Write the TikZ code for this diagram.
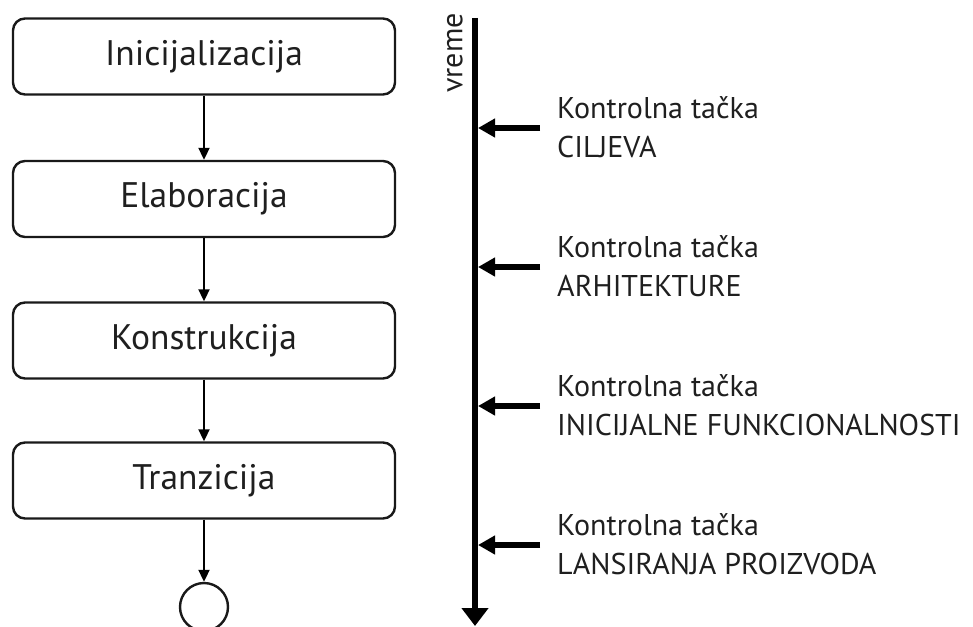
\documentclass[tikz,border=0pt]{standalone}
\usepackage{fontspec}
\setmainfont{PT Sans}
\usetikzlibrary{arrows.meta}
\begin{document}
\begin{tikzpicture}[x=1pt,y=-1pt,
  phase/.style={draw=black!90,line width=2.4pt,rounded corners=12pt,minimum width=382pt,minimum height=76pt,inner sep=0pt,font=\fontsize{35.5}{40}\selectfont,text=black!88},
  flow/.style={line width=2pt,-{Triangle[width=11pt,length=12pt]}},
  cp/.style={line width=6pt,-{Triangle[width=18pt,length=17pt]}},
  cplabel/.style={anchor=base west,align=left,inner sep=0pt,font=\fontsize{30}{38.5}\selectfont,text=black!88}]
\useasboundingbox (0,0) rectangle (973,626);
\node[phase] (p1) at (204,56.5) {Inicijalizacija};
\node[phase] (p2) at (204,199) {Elaboracija};
\node[phase] (p3) at (204,340.5) {Konstrukcija};
\node[phase] (p4) at (204,480.5) {Tranzicija};
\node[draw=black!90,line width=2.4pt,circle,minimum size=48pt,inner sep=0pt] (end) at (204,607) {};
\draw[flow] (p1) -- (p2);
\draw[flow] (p2) -- (p3);
\draw[flow] (p3) -- (p4);
\draw[flow] (p4) -- (end);
\coordinate (t0) at (475,18);
\coordinate (t1) at (475,626);
\draw[line width=5.5pt,-{Triangle[width=26pt,length=18pt]}] (t0) -- (t1);
\node[rotate=90,anchor=south east,inner sep=0pt,font=\fontsize{30}{32}\selectfont,text=black!88] (vr) at (463,13) {vreme};
\foreach \i/\y/\a/\b in {1/128/Kontrolna tačka/CILJEVA,2/267/Kontrolna tačka/ARHITEKTURE,3/406/Kontrolna tačka/INICIJALNE FUNKCIONALNOSTI,4/545/Kontrolna tačka/LANSIRANJA PROIZVODA}{
  \coordinate (s\i) at (540,\y);
  \coordinate (e\i) at (478,\y);
  \draw[cp] (s\i) -- (e\i);
  \node[cplabel] (l\i) at (557,\y+29) {\a\\\b};
}
\end{tikzpicture}
\end{document}
